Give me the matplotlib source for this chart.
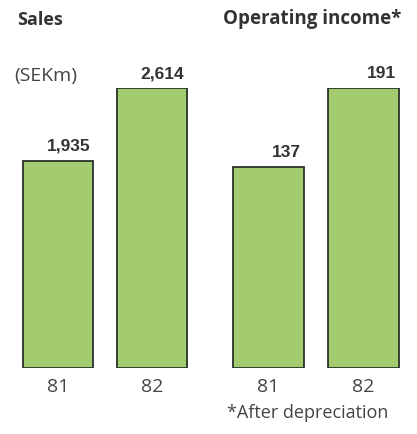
import matplotlib.pyplot as plt

# Values in SEK millions
years = ['81', '82']
sales = [1935, 2614]
sales_labels = ['1,935', '2,614']
op_income = [137, 191]
op_income_labels = ['137', '191']

bar_color = '#a3cc70'
edge_color = '#2a332a'
text_color = '#333333'

W, H = 417, 434
fig = plt.figure(figsize=(W / 100, H / 100), dpi=100)
fig.patch.set_facecolor('white')


def px_axes(x0, x1, y_top, y_bottom):
    # axes placed in pixel coords (y measured from top)
    return fig.add_axes([x0 / W, 1 - y_bottom / H, (x1 - x0) / W, (y_bottom - y_top) / H])


def draw_panel(ax, values, labels):
    xs = range(len(values))
    ax.bar(xs, values, width=0.745, color=bar_color, edgecolor=edge_color,
           linewidth=1.3)
    ax.set_xlim(-0.5, 1.5)
    ax.set_ylim(0, max(values))
    for x, v, lab in zip(xs, values, labels):
        ax.annotate(lab, (x + 0.345, v), xytext=(0, 5), textcoords='offset points',
                    ha='right', va='bottom', fontsize=12.5, fontweight='bold',
                    family='Liberation Sans', color=text_color, annotation_clip=False)
    ax.set_xticks(list(xs))
    ax.set_xticklabels(years, fontsize=14, family='Open Sans', color='#444444')
    ax.tick_params(axis='x', length=0, pad=7)
    ax.set_yticks([])
    for s in ax.spines.values():
        s.set_visible(False)
    ax.patch.set_alpha(0)


ax1 = px_axes(11, 199, 88, 368)
draw_panel(ax1, sales, sales_labels)

ax2 = px_axes(221, 411, 88, 368)
draw_panel(ax2, op_income, op_income_labels)

fig.text(17 / W, 1 - 20 / H, 'Sales', fontsize=13, fontweight='bold',
         family='Open Sans', color=text_color, ha='left', va='center')
fig.text(223 / W, 1 - 19 / H, 'Operating income*', fontsize=13.5, fontweight='bold',
         family='Open Sans', color=text_color, ha='left', va='center')
fig.text(14 / W, 1 - 76 / H, '(SEKm)', fontsize=14, family='Open Sans',
         color='#444444', ha='left', va='center')
fig.text(227 / W, 1 - 413 / H, '*After depreciation', fontsize=13,
         family='Open Sans', color='#444444', ha='left', va='center')

fig.savefig('out.png', dpi=100, facecolor='white')
